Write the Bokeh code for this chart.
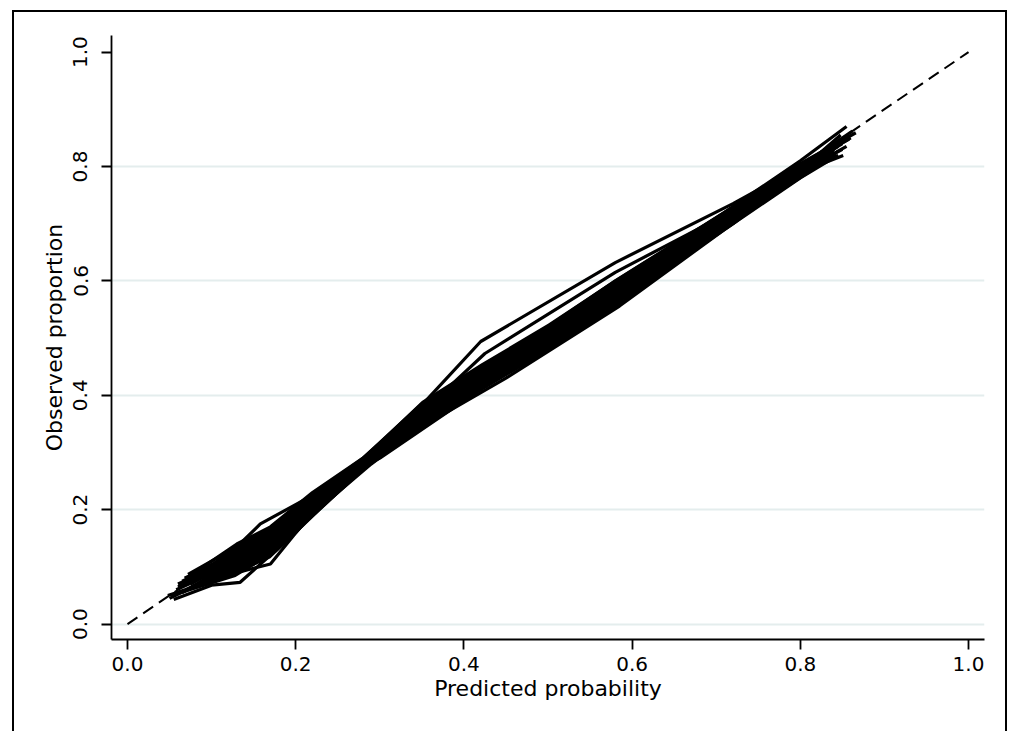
from bokeh.plotting import figure
from bokeh.models import FixedTicker, Range1d, PrintfTickFormatter
from bokeh.embed import file_html
from bokeh.resources import INLINE

# ---- data ----
tick_values = [0.0, 0.2, 0.4, 0.6, 0.8, 1.0]
grid_values = [0.0, 0.2, 0.4, 0.6, 0.8]

ref_x = [0.0, 1.0]
ref_y = [0.0, 1.0]

# dense core of the bootstrap calibration curves
band_x = [0.09, 0.13, 0.17, 0.22, 0.28, 0.35, 0.42, 0.50, 0.58, 0.71, 0.80, 0.84]
band_lower = [0.072, 0.088, 0.115, 0.185, 0.268, 0.345, 0.408, 0.478, 0.56, 0.693, 0.78, 0.818]
band_upper = [0.095, 0.14, 0.168, 0.23, 0.292, 0.39, 0.455, 0.525, 0.603, 0.722, 0.806, 0.842]

# individual calibration curves (predicted, observed)
curves_x = [
    [0.055, 0.10, 0.134, 0.20, 0.26, 0.35, 0.45, 0.585, 0.71, 0.80, 0.845],
    [0.048, 0.13, 0.17, 0.25, 0.30, 0.42, 0.50, 0.58, 0.72, 0.80, 0.85],
    [0.065, 0.13, 0.17, 0.22, 0.28, 0.35, 0.42, 0.50, 0.58, 0.71, 0.80, 0.84],
    [0.07, 0.13, 0.17, 0.22, 0.28, 0.35, 0.42, 0.50, 0.58, 0.71, 0.80, 0.855],
    [0.06, 0.13, 0.17, 0.22, 0.28, 0.35, 0.42, 0.50, 0.58, 0.71, 0.80, 0.85],
    [0.075, 0.13, 0.17, 0.22, 0.28, 0.35, 0.42, 0.50, 0.58, 0.71, 0.80, 0.86],
    [0.07, 0.13, 0.17, 0.22, 0.28, 0.35, 0.42, 0.50, 0.58, 0.71, 0.80, 0.862],
    [0.072, 0.13, 0.158, 0.22, 0.28, 0.35, 0.42, 0.50, 0.58, 0.71, 0.80, 0.866],
    [0.08, 0.13, 0.17, 0.22, 0.28, 0.35, 0.42, 0.50, 0.58, 0.71, 0.80, 0.855],
    [0.09, 0.13, 0.17, 0.22, 0.28, 0.35, 0.42, 0.50, 0.58, 0.71, 0.80, 0.851],
    [0.065, 0.13, 0.17, 0.22, 0.28, 0.345, 0.42, 0.58, 0.72, 0.80, 0.85],
    [0.06, 0.13, 0.17, 0.22, 0.28, 0.35, 0.425, 0.58, 0.71, 0.80, 0.845],
    [0.05, 0.12, 0.165, 0.21, 0.29, 0.36, 0.43, 0.51, 0.59, 0.72, 0.81, 0.84],
    [0.058, 0.125, 0.175, 0.215, 0.285, 0.345, 0.415, 0.49, 0.575, 0.705, 0.79, 0.858],
    [0.068, 0.135, 0.165, 0.225, 0.275, 0.355, 0.425, 0.505, 0.585, 0.715, 0.805, 0.848],
    [0.052, 0.128, 0.172, 0.218, 0.282, 0.352, 0.418, 0.498, 0.578, 0.708, 0.798, 0.842],
]
curves_y = [
    [0.043, 0.068, 0.073, 0.16, 0.255, 0.345, 0.43, 0.556, 0.69, 0.78, 0.82],
    [0.05, 0.09, 0.105, 0.25, 0.29, 0.41, 0.48, 0.56, 0.70, 0.79, 0.83],
    [0.055, 0.10, 0.12, 0.19, 0.27, 0.35, 0.415, 0.49, 0.57, 0.70, 0.785, 0.815],
    [0.06, 0.11, 0.14, 0.20, 0.275, 0.36, 0.42, 0.495, 0.575, 0.705, 0.79, 0.835],
    [0.065, 0.115, 0.15, 0.21, 0.28, 0.365, 0.425, 0.50, 0.58, 0.71, 0.795, 0.84],
    [0.07, 0.12, 0.155, 0.215, 0.285, 0.37, 0.43, 0.505, 0.585, 0.712, 0.80, 0.85],
    [0.075, 0.125, 0.16, 0.22, 0.285, 0.375, 0.435, 0.51, 0.59, 0.715, 0.80, 0.862],
    [0.087, 0.135, 0.175, 0.225, 0.29, 0.38, 0.44, 0.515, 0.595, 0.72, 0.805, 0.859],
    [0.09, 0.14, 0.17, 0.23, 0.29, 0.385, 0.45, 0.52, 0.60, 0.72, 0.81, 0.87],
    [0.085, 0.13, 0.165, 0.21, 0.28, 0.37, 0.445, 0.50, 0.57, 0.70, 0.79, 0.819],
    [0.075, 0.12, 0.155, 0.215, 0.285, 0.375, 0.494, 0.632, 0.735, 0.80, 0.845],
    [0.07, 0.115, 0.15, 0.21, 0.28, 0.37, 0.473, 0.615, 0.715, 0.795, 0.835],
    [0.045, 0.095, 0.13, 0.18, 0.28, 0.36, 0.42, 0.49, 0.565, 0.705, 0.79, 0.83],
    [0.06, 0.105, 0.145, 0.195, 0.28, 0.355, 0.425, 0.495, 0.58, 0.708, 0.79, 0.848],
    [0.08, 0.13, 0.16, 0.225, 0.28, 0.375, 0.44, 0.51, 0.59, 0.715, 0.80, 0.855],
    [0.05, 0.085, 0.125, 0.20, 0.275, 0.355, 0.41, 0.485, 0.56, 0.695, 0.785, 0.822],
]

x_title = "Predicted probability"
y_title = "Observed proportion"

# ---- figure ----
p = figure(
    width=995, height=721,
    x_range=Range1d(-0.019, 1.019), y_range=Range1d(-0.027, 1.029),
    output_backend="svg", toolbar_location=None,
    min_border_left=97, min_border_right=25, min_border_top=23, min_border_bottom=94,
    margin=(10, 4, 0, 12),
    styles={"border-left": "2px solid black", "border-top": "2px solid black",
            "border-right": "2px solid black"},
)
p.outline_line_color = None
p.background_fill_color = "white"
p.border_fill_color = "white"

p.xgrid.visible = False
p.ygrid.ticker = FixedTicker(ticks=grid_values)
p.ygrid.grid_line_color = "#e4eded"
p.ygrid.grid_line_width = 2

for ax in (p.xaxis[0], p.yaxis[0]):
    ax.ticker = FixedTicker(ticks=tick_values)
    ax.formatter = PrintfTickFormatter(format="%.1f")
    ax.axis_line_color = "black"
    ax.axis_line_width = 1.8
    ax.major_tick_line_color = "black"
    ax.major_tick_line_width = 1.8
    ax.major_tick_out = 10
    ax.major_tick_in = 0
    ax.minor_tick_line_color = None
    ax.major_label_text_font = "DejaVu Sans"
    ax.major_label_text_font_size = "20px"
    ax.major_label_text_color = "black"
    ax.axis_label_text_font = "DejaVu Sans"
    ax.axis_label_text_font_size = "22px"
    ax.axis_label_text_font_style = "normal"
    ax.axis_label_text_color = "black"

p.xaxis.axis_label = x_title
p.yaxis.axis_label = y_title
p.xaxis.major_label_standoff = 7
p.xaxis.axis_label_standoff = 2
p.yaxis.major_label_standoff = 14
p.yaxis.axis_label_standoff = 4
p.yaxis.major_label_orientation = "vertical"

p.varea(x=band_x, y1=band_lower, y2=band_upper, fill_color="black", fill_alpha=1.0)
p.multi_line(xs=curves_x, ys=curves_y, line_color="black", line_width=3.2,
             line_join="round")
p.line(ref_x, ref_y, line_color="black", line_width=2, line_dash="12 7")

open("out.html", "w").write(file_html(p, INLINE))
